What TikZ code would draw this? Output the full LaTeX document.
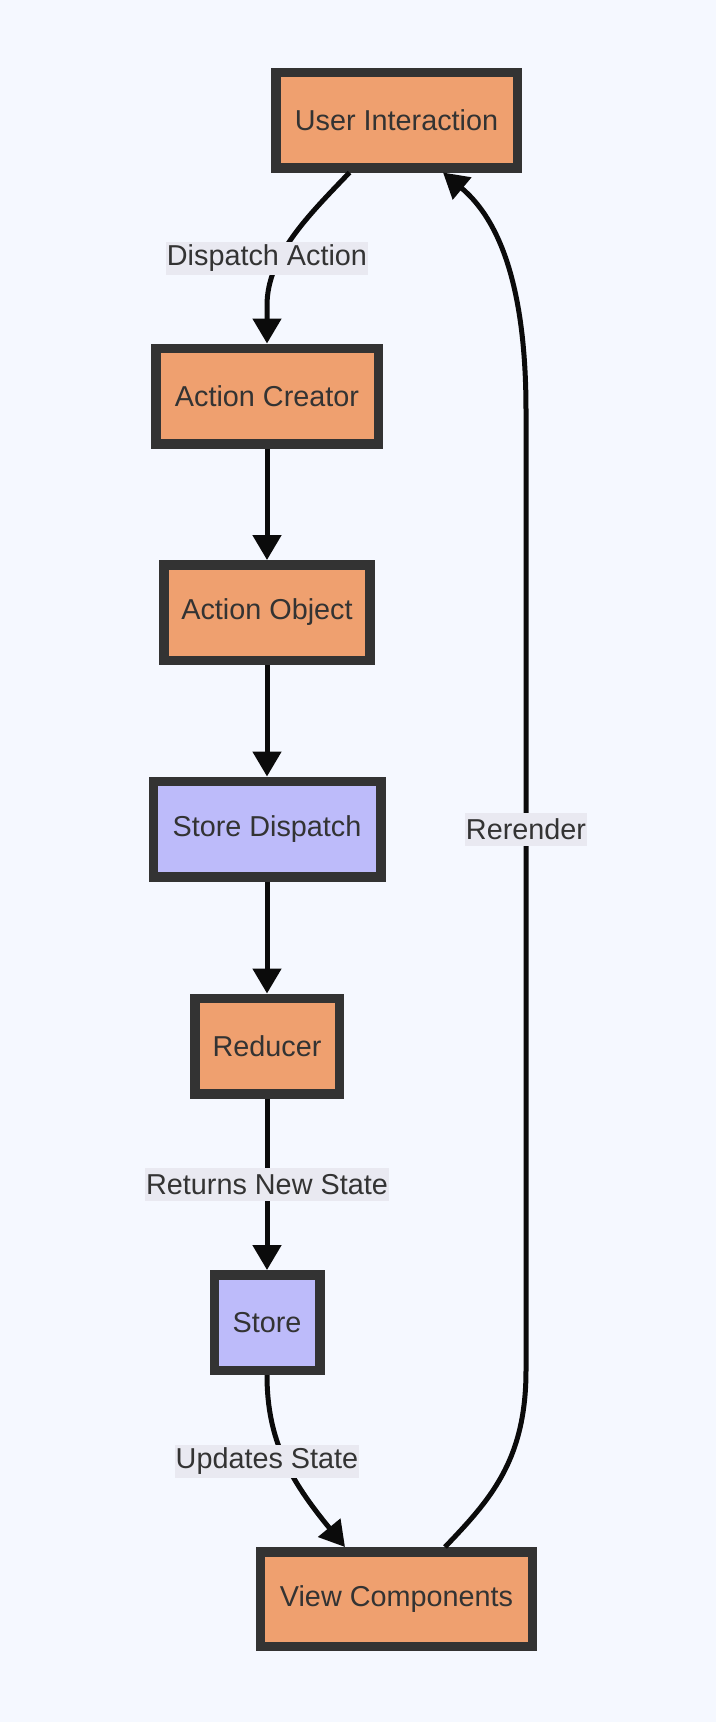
\documentclass[tikz,border=0pt]{standalone}
\usepackage{fontspec}
\setmainfont{Liberation Sans}
\usetikzlibrary{arrows.meta,calc}
\definecolor{bg}{HTML}{F5F8FF}
\definecolor{orng}{HTML}{EFA06F}
\definecolor{purp}{HTML}{BDBBFA}
\definecolor{bord}{HTML}{333333}
\definecolor{lblbg}{HTML}{E9E9F1}
\definecolor{edgec}{HTML}{0B0B0B}
\definecolor{txt}{HTML}{333333}
\tikzset{
  box/.style={rectangle, draw=bord, line width=9.5pt, text=txt, inner sep=0pt,
    font=\fontsize{28.8}{33}\selectfont, minimum height=95.5pt},
  obox/.style={box, fill=orng},
  pbox/.style={box, fill=purp},
  edge/.style={draw=edgec, line width=5pt, -{Triangle[length=25pt,width=28pt]}},
  lbl/.style={fill=lblbg, text=txt, inner xsep=1pt, inner ysep=0pt, minimum height=33pt,
    font=\fontsize{28.8}{33}\selectfont}
}
\begin{document}
\begin{tikzpicture}[x=1pt,y=-1pt]
\fill[bg] (0,0) rectangle (716,1722);
\useasboundingbox (0,0) rectangle (716,1722);

\node[obox, minimum width=241.5pt] (ui) at (396.5,120) {User Interaction};
\node[obox, minimum width=222.5pt] (ac) at (267,396) {Action Creator};
\node[obox, minimum width=206pt] (ao) at (267,612.5) {Action Object};
\node[pbox, minimum width=227.5pt] (sd) at (267,829) {Store Dispatch};
\node[obox, minimum width=144.5pt] (rd) at (267,1046) {Reducer};
\node[pbox, minimum width=105.5pt] (st) at (267,1322.5) {Store};
\node[obox, minimum width=272pt, minimum height=94.5pt] (vc) at (396.5,1599) {View Components};

\coordinate (crr) at (526,829.5);

% edges
\draw[edge] ($(ui.south)+(-47,0)$) .. controls +(-40,42) and +(0,-50) .. ($(ac.north)+(0,-38)$) -- (ac.north);
\draw[edge] (ac) -- (ao);
\draw[edge] (ao) -- (sd);
\draw[edge] (sd) -- (rd);
\draw[edge] (rd) -- (st);
\draw[edge] (st.south) .. controls +(0,65) and +(-55,-67) .. ($(vc.north)+(-51.5,0)$);
\draw[edge] ($(vc.north)+(48.5,0)$) .. controls +(45,-47) and +(0,90) .. ($(crr)+(0,541)$)
  -- ($(crr)+(0,-419)$) .. controls +(0,-110) and +(62,52) .. ($(ui.south)+(46.5,0)$);

% labels
\node[lbl] (lda) at (267,258) {Dispatch Action};
\node[lbl] (lrn) at (267,1184.5) {Returns New State};
\node[lbl] (lus) at (267,1461) {Updates State};
\node[lbl] (lrr) at (crr) {Rerender};
\end{tikzpicture}
\end{document}
